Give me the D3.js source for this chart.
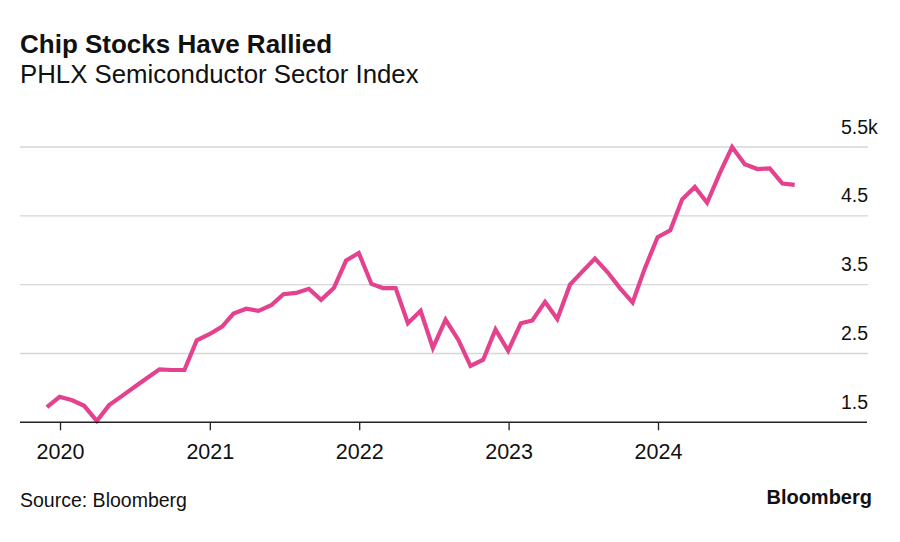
<!DOCTYPE html>
<html>
<head>
<meta charset="utf-8">
<script src="https://cdn.jsdelivr.net/npm/d3@7"></script>
<style>
  html, body { margin: 0; padding: 0; background: #ffffff; }
  svg { display: block; font-family: "Liberation Sans", Arial, Helvetica, sans-serif; }
</style>
</head>
<body>
<svg id="chart" width="900" height="542"></svg>
<script>
// ---- Data ----
const title = "Chip Stocks Have Rallied";
const subtitle = "PHLX Semiconductor Sector Index";
const source = "Source: Bloomberg";
const brand = "Bloomberg";

const months = [
  "2019-11","2019-12",
  "2020-01","2020-02","2020-03","2020-04","2020-05","2020-06","2020-07","2020-08","2020-09","2020-10","2020-11","2020-12",
  "2021-01","2021-02","2021-03","2021-04","2021-05","2021-06","2021-07","2021-08","2021-09","2021-10","2021-11","2021-12",
  "2022-01","2022-02","2022-03","2022-04","2022-05","2022-06","2022-07","2022-08","2022-09","2022-10","2022-11","2022-12",
  "2023-01","2023-02","2023-03","2023-04","2023-05","2023-06","2023-07","2023-08","2023-09","2023-10","2023-11","2023-12",
  "2024-01","2024-02","2024-03","2024-04","2024-05","2024-06","2024-07","2024-08","2024-09","2024-10","2024-11"
];
const indexValues = [
  1720, 1870,
  1820, 1740, 1520, 1750, 1880, 2010, 2140, 2270, 2260, 2260, 2690, 2780,
  2890, 3080, 3150, 3120, 3200, 3360, 3380, 3440, 3280, 3450, 3850, 3960,
  3510, 3450, 3450, 2940, 3120, 2580, 2990, 2700, 2320, 2410, 2850, 2540,
  2940, 2980, 3250, 3000, 3500, 3690, 3880, 3680, 3450, 3240, 3740, 4190,
  4290, 4740, 4920, 4690, 5120, 5500, 5250, 5180, 5190, 4970, 4950
];
const yTickValues = [1500, 2500, 3500, 4500, 5500];
const yTickLabels = ["1.5", "2.5", "3.5", "4.5", "5.5"];
const yTopSuffix = "k";
const xTickYears = ["2020", "2021", "2022", "2023", "2024"];

// ---- Layout ----
const svg = d3.select("#chart");
const plotLeft = 20, plotRight = 868;
const baseY = 422.3, topY = 147;
const lineColor = "#e4418e";

const parseMonth = d3.timeParse("%Y-%m");
const parseYear = d3.timeParse("%Y");
const monthEnd = m => d3.timeDay.offset(d3.timeMonth.offset(parseMonth(m), 1), -1);

const data = months.map((m, i) => ({ date: monthEnd(m), value: indexValues[i] }));

const x = d3.scaleTime()
  .domain([parseYear("2020"), parseYear("2024")])
  .range([60, 658]);
const y = d3.scaleLinear()
  .domain([1500, 5500])
  .range([baseY, topY]);

// Title & subtitle
svg.append("text").attr("x", 20).attr("y", 53)
  .attr("font-size", 26).attr("font-weight", 700).attr("fill", "#111")
  .text(title);
svg.append("text").attr("x", 20).attr("y", 83)
  .attr("font-size", 25.8).attr("fill", "#111")
  .text(subtitle);

// Gridlines (skip baseline one)
svg.append("g").selectAll("line")
  .data(yTickValues.slice(1))
  .join("line")
  .attr("x1", plotLeft).attr("x2", plotRight)
  .attr("y1", d => y(d)).attr("y2", d => y(d))
  .attr("stroke", "#d6d6d6").attr("stroke-width", 1.3);

// Y labels
const yl = svg.append("g").attr("font-size", 19.5).attr("fill", "#111");
yl.selectAll("text")
  .data(yTickValues)
  .join("text")
  .attr("x", plotRight).attr("y", d => y(d) - 13.5)
  .attr("text-anchor", "end")
  .text((d, i) => yTickLabels[i]);
yl.append("text")
  .attr("x", plotRight).attr("y", y(yTickValues[yTickValues.length - 1]) - 13.5)
  .attr("text-anchor", "start")
  .text(yTopSuffix);

// Line
const line = d3.line()
  .x(d => x(d.date))
  .y(d => y(d.value))
  .curve(d3.curveLinear);
svg.append("path")
  .datum(data)
  .attr("d", line)
  .attr("fill", "none")
  .attr("stroke", lineColor)
  .attr("stroke-width", 4.2)
  .attr("stroke-linejoin", "miter")
  .attr("stroke-linecap", "butt");

// X axis baseline
svg.append("line")
  .attr("x1", plotLeft).attr("x2", plotRight - 1)
  .attr("y1", baseY).attr("y2", baseY)
  .attr("stroke", "#222").attr("stroke-width", 1.5);

const xAxis = d3.axisBottom(x)
  .tickValues(xTickYears.map(parseYear))
  .tickSize(8)
  .tickPadding(12)
  .tickFormat(d3.timeFormat("%Y"));
const gx = svg.append("g")
  .attr("transform", `translate(0,${baseY})`)
  .call(xAxis);
gx.select(".domain").remove();
gx.selectAll(".tick line").attr("stroke", "#222").attr("stroke-width", 1.3);
gx.selectAll(".tick text")
  .attr("font-size", 21.5)
  .attr("font-family", "'Liberation Sans', Arial, sans-serif")
  .attr("fill", "#111")
  .attr("dy", null)
  .attr("y", 36.5);

// Footer
svg.append("text").attr("x", 20).attr("y", 507)
  .attr("font-size", 19.5).attr("fill", "#111")
  .text(source);
svg.append("text").attr("x", 872).attr("y", 504)
  .attr("text-anchor", "end")
  .attr("font-size", 20).attr("font-weight", 700).attr("fill", "#111")
  .text(brand);
</script>
</body>
</html>
